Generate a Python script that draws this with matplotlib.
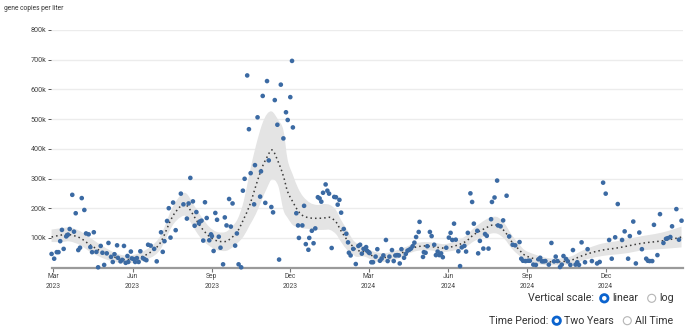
import numpy as np
import pandas as pd
import matplotlib
matplotlib.use("Agg")
import matplotlib.pyplot as plt
import matplotlib.dates as mdates
from matplotlib.path import Path
from matplotlib.patches import PathPatch, Circle

plt.rcParams['font.family'] = ['Roboto', 'DejaVu Sans']

# ---- data -------------------------------------------------------------
start_date = '2023-03-01'

# sample days (days after start_date) and concentrations (thousand copies / L)
sample_day = [
    -2, 1, 4, 6, 8, 10, 12, 15, 16, 17, 19, 22, 24, 26, 29, 31, 33, 36, 38, 41,
    43, 45, 47, 50, 52, 55, 57, 59, 62, 64, 67, 69, 71, 74, 75, 78, 80, 82, 84, 86,
    87, 90, 91, 93, 95, 97, 99, 101, 104, 106, 108, 110, 113, 117, 120,
    125, 127, 129, 132, 134, 136, 139, 142, 148, 151, 155, 157, 159, 162, 164, 166,
    169, 170, 172, 174, 176, 178, 181, 183, 184, 186, 188, 190, 192, 194, 197, 199,
    201, 204, 206, 208, 211, 213, 215, 218, 220, 222, 225, 227, 229, 233, 234, 237,
    240, 241, 243, 246, 248, 250, 253, 255, 257, 260, 262, 264, 267, 270, 272, 275,
    277, 278, 282, 284, 285, 289, 291, 293, 296, 297, 300, 302, 304, 307, 309, 311,
    313, 316, 318, 320, 323, 326, 328, 330, 332, 334, 337, 340, 342, 343, 345, 348,
    351, 354,
    356, 358, 360, 363, 364, 366, 367, 369, 371, 374, 376, 379, 381, 383, 386, 388,
    390, 393, 395, 397, 399, 401, 402, 404, 407, 409, 411, 413, 415, 417, 419, 421,
    424, 425, 429, 430, 432, 434, 437, 439, 442, 444, 446, 448, 450, 452, 456, 459,
    461, 463, 465, 467, 470, 472, 474, 477, 479, 481, 484, 486, 488, 492, 493, 495,
    499, 501, 503, 505, 508, 509, 512, 515, 516, 519, 522, 526, 529, 533, 536, 541,
    543, 545, 548, 551, 553, 557, 560, 563, 565, 567, 569, 571, 575, 578, 581, 583,
    585, 588, 590, 592, 595, 597, 600, 603, 606, 608,
    610, 613, 617, 620, 625, 631, 634, 638, 641, 645, 648, 652, 655, 660, 663, 667,
    669, 673, 676, 680, 683, 688, 690, 692, 695, 697, 701, 704, 708, 711, 713, 716,
    718, 723, 726, 729,
]
sample_value_k = [
    46, 30, 52, 52, 89, 127, 63, 105, 109, 111, 130, 245, 121, 183, 59, 67, 234, 194, 115, 112,
    69, 52, 119, 53, 1, 73, 50, 9, 48, 83, 36, 19, 45, 75, 33, 21, 26, 73, 16, 39,
    19, 54, 31, 29, 19, 32, 19, 55, 32, 28, 25, 77, 74, 63, 21,
    119, 53, 89, 157, 200, 101, 219, 126, 249, 213, 165, 216, 302, 223, 141, 187,
    149, 155, 158, 91, 220, 167, 92, 112, 106, 56, 184, 161, 104, 67, 11, 169,
    142, 231, 138, 216, 74, 115, 11, 1, 259, 299, 647, 466, 318, 213, 345, 506,
    239, 324, 578, 218, 628, 361, 204, 186, 564, 481, 27, 616, 435, 523, 497, 574,
    696, 472, 183, 142, 100, 142, 208, 79, 60, 100, 124, 82, 132, 237, 233, 222,
    252, 280, 259, 249, 66, 238, 237, 212, 228, 185, 130, 114, 85, 50, 41, 63,
    12, 73,
    77, 47, 63, 69, 57, 52, 49, 18, 18, 37, 62, 23, 30, 41, 93, 22,
    37, 59, 22, 41, 42, 41, 14, 62, 33, 46, 57, 60, 64, 72, 84, 103,
    120, 154, 36, 52, 50, 72, 120, 106, 77, 42, 54, 42, 48, 35, 67, 101,
    117, 93, 148, 94, 55, 5, 68, 73, 54, 117, 250, 221, 148, 124, 48, 90,
    64, 113, 107, 64, 163, 221, 236, 293, 142, 139, 159, 242, 105, 77, 75, 86,
    30, 23, 22, 23, 23, 10, 9, 28, 33, 21, 21, 22, 10, 83, 21, 37,
    22, 2, 10, 39, 29, 21, 9, 59, 10, 18,
    9, 85, 18, 62, 22, 14, 19, 286, 249, 93, 30, 102, 214, 93, 122, 30,
    106, 155, 14, 118, 62, 30, 23, 22, 22, 144, 42, 180, 83, 97, 99, 103,
    139, 197, 94, 158,
]

# smoothed trend with its uncertainty band (thousand copies / L)
trend_day = [
    -2, 10, 19, 31, 43, 58, 72, 83, 95, 107, 118, 126, 138, 148, 155, 166, 173, 181,
    190, 200, 207, 214, 221, 228, 235, 242, 248, 254, 261, 267, 272, 278, 284, 290,
    298, 306, 314, 321, 328, 334, 341, 347, 352, 361, 373, 385, 396, 408, 419, 431,
    443, 454, 466, 478, 489, 501, 509, 516, 524, 532, 540, 547, 559, 574, 590, 602,
    611, 623, 637, 652, 667, 683, 698, 713, 729,
]
trend_k = [
    103, 110, 111, 100, 76, 51, 34, 27, 31, 42, 63, 93, 170, 207, 209, 160, 130, 105,
    90, 88, 101, 123, 164, 211, 275, 335, 372, 396, 356, 308, 255, 221, 191, 174,
    167, 166, 167, 169, 154, 123, 93, 73, 59, 53, 37, 34, 41, 54, 68, 73,
    69, 66, 73, 87, 113, 132, 143, 141, 121, 87, 62, 42, 29, 20, 20, 26,
    37, 49, 59, 65, 73, 82, 87, 93, 103,
]
trend_upper_k = [
    128, 133, 135, 123, 100, 71, 49, 41, 44, 59, 83, 116, 201, 244, 248, 197, 167, 137,
    120, 120, 137, 164, 224, 322, 409, 480, 517, 525, 497, 463, 362, 312, 268, 239,
    218, 211, 214, 211, 194, 160, 127, 96, 82, 68, 53, 49, 56, 68, 81, 86,
    83, 79, 88, 105, 135, 160, 170, 169, 147, 110, 81, 59, 44, 32, 31, 39,
    53, 68, 81, 88, 96, 106, 113, 123, 138,
]
trend_lower_k = [
    86, 86, 88, 76, 53, 31, 19, 14, 17, 26, 42, 69, 140, 170, 170, 120, 93, 73,
    59, 56, 66, 83, 106, 143, 180, 228, 268, 298, 275, 194, 167, 143, 137, 132,
    130, 127, 127, 127, 113, 86, 59, 46, 36, 37, 22, 19, 26, 41, 54, 59,
    56, 53, 58, 69, 90, 106, 115, 113, 95, 64, 42, 26, 14, 8, 9, 12,
    21, 31, 39, 44, 49, 58, 61, 64, 68,
]

y_ticks_k = [100, 200, 300, 400, 500, 600, 700, 800]
x_tick_dates = ['2023-03-01', '2023-06-01', '2023-09-01', '2023-12-01',
                '2024-03-01', '2024-06-01', '2024-09-01', '2024-12-01']
x_tick_labels = ['Mar\n2023', 'Jun\n2023', 'Sep\n2023', 'Dec\n2023',
                 'Mar\n2024', 'Jun\n2024', 'Sep\n2024', 'Dec\n2024']

# ---- helpers ----------------------------------------------------------
t0 = pd.Timestamp(start_date)


def to_num(days):
    return mdates.date2num(t0 + pd.to_timedelta(np.asarray(days), unit='D'))


def bezier_through(xs, ys):
    """Cubic Bezier (Catmull-Rom) vertices passing through the knots."""
    P = np.column_stack([xs, ys]).astype(float)
    n = len(P)
    verts = [P[0]]
    for i in range(n - 1):
        p0 = P[i - 1] if i > 0 else P[i]
        p1, p2 = P[i], P[i + 1]
        p3 = P[i + 2] if i + 2 < n else P[i + 1]
        verts += [p1 + (p2 - p0) / 6.0, p2 - (p3 - p1) / 6.0, p2]
    codes = [Path.MOVETO] + [Path.CURVE4] * (3 * (n - 1))
    return np.array(verts), codes


# ---- figure -----------------------------------------------------------
W, H = 691, 333
fig = plt.figure(figsize=(W / 100, H / 100), dpi=100)
ax_left, ax_right, ax_bottom, ax_top = 51.5, 683.0, 267.6, 30.0
ax = fig.add_axes([ax_left / W, 1 - ax_bottom / H,
                   (ax_right - ax_left) / W, (ax_bottom - ax_top) / H])

xd = to_num(sample_day)
ax.set_xlim(to_num([-2.1])[0], to_num([730.7])[0])
ax.set_ylim(0, 800)

# grid
for v in y_ticks_k:
    ax.axhline(v, color='#ececec', lw=1.0, zorder=0)

# uncertainty band
tx = to_num(trend_day)
uv, uc = bezier_through(tx, trend_upper_k)
lv, lc = bezier_through(tx[::-1], trend_lower_k[::-1])
band_verts = np.vstack([uv, lv, uv[:1]])
band_codes = uc + [Path.LINETO] + lc[1:] + [Path.CLOSEPOLY]
ax.add_patch(PathPatch(Path(band_verts, band_codes), facecolor='#e4e4e4',
                       edgecolor='none', zorder=1))

# trend line
tv, tc = bezier_through(tx, trend_k)
ax.add_patch(PathPatch(Path(tv, tc), facecolor='none', edgecolor='#3a3a3a',
                       lw=1.1, linestyle=(0, (1.0, 2.0)), zorder=2))

# samples
ax.scatter(xd, sample_value_k, s=11, color='#3b6aa3', edgecolors='none',
           zorder=3, clip_on=False)

# axes styling
for side in ['top', 'right', 'left']:
    ax.spines[side].set_visible(False)
ax.spines['bottom'].set_color('#9a9a9a')
ax.spines['bottom'].set_linewidth(1.6)

ax.set_yticks(y_ticks_k)
ax.set_yticklabels([f'{v}k' for v in y_ticks_k])
ax.tick_params(axis='y', length=2.4, width=0.7, color='#555555', pad=1.2,
               labelsize=5.2, labelcolor='#444444')

ax.set_xticks(mdates.date2num(pd.to_datetime(x_tick_dates)))
ax.set_xticklabels(x_tick_labels, linespacing=1.5)
ax.tick_params(axis='x', length=3.2, width=0.8, color='#777777', pad=1.0,
               labelsize=4.9, labelcolor='#444444')

fig.text(4 / W, 1 - 8 / H, 'gene copies per liter', fontsize=4.8,
         color='#333333', va='center', ha='left')

# ---- scale / period selectors ----------------------------------------
def px(x, y):
    return (x / 100.0, (H - y) / 100.0)


def radio(x, y, selected):
    if selected:
        c = Circle(px(x, y), 0.037, transform=fig.dpi_scale_trans,
                   facecolor='white', edgecolor='#0b63ce', lw=2.0)
    else:
        c = Circle(px(x, y), 0.040, transform=fig.dpi_scale_trans,
                   facecolor='white', edgecolor='#b5b5b5', lw=0.8)
    fig.add_artist(c)


ui_font = dict(fontsize=7.7, color='#333333', va='center',
               transform=fig.dpi_scale_trans)

row1, row2 = 298.3, 320.7
fig.text(*px(594.3, row1), 'Vertical scale:', ha='right', **ui_font)
radio(604.3, row1, True)
fig.text(*px(612.7, row1), 'linear', ha='left', **ui_font)
radio(651.7, row1, False)
fig.text(*px(659.0, row1), 'log', ha='left', **ui_font)

fig.text(*px(548.0, row2), 'Time Period:', ha='right', **ui_font)
radio(556.7, row2, True)
fig.text(*px(564.0, row2), 'Two Years', ha='left', **ui_font)
radio(627.3, row2, False)
fig.text(*px(635.0, row2), 'All Time', ha='left', **ui_font)

fig.savefig('out.png', dpi=100)
